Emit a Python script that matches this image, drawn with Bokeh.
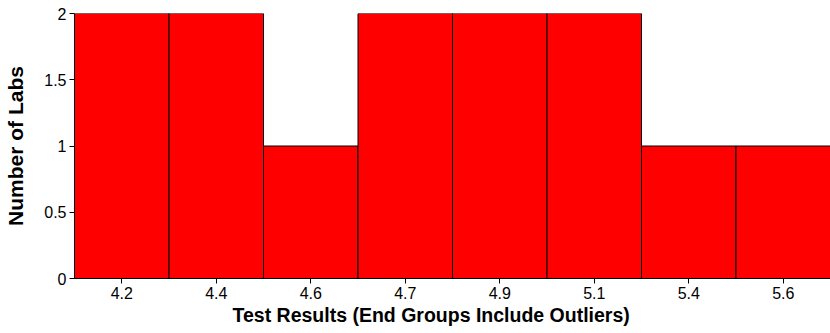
from bokeh.plotting import figure
from bokeh.models import Range1d, FactorRange, Title
from bokeh.embed import file_html
from bokeh.resources import INLINE

bins = ["4.2", "4.4", "4.6", "4.7", "4.9", "5.1", "5.4", "5.6"]
counts = [2, 2, 1, 2, 2, 2, 1, 1]
y_ticks = [0, 0.5, 1, 1.5, 2]

p = figure(width=830, height=333, output_backend="svg", toolbar_location=None,
           x_range=FactorRange(factors=bins, range_padding=0),
           y_range=Range1d(0, 2),
           min_border_left=74, min_border_right=0, min_border_top=13, min_border_bottom=55)

p.vbar(x=bins, top=counts, width=1.0, fill_color="#ff0000", line_color="black", line_width=1)

p.xgrid.visible = False
p.ygrid.visible = False
p.outline_line_color = None

p.yaxis.ticker = y_ticks
p.yaxis.minor_tick_line_color = None

for ax in (p.xaxis[0], p.yaxis[0]):
    ax.major_label_text_font = "Liberation Sans"
    ax.major_label_text_font_size = "16px"
    ax.major_label_text_color = "black"
    ax.axis_label_text_font = "Liberation Sans"
    ax.axis_label_text_font_style = "bold"
    ax.axis_label_text_color = "black"
    ax.axis_line_color = "black"
    ax.major_tick_line_color = "black"
    ax.major_tick_out = 5
    ax.major_tick_in = 0
    ax.major_label_standoff = 3

p.yaxis.axis_label = "Number of Labs"
p.yaxis.axis_label_text_font_size = "21px"
p.yaxis.axis_label_standoff = 14

xt = Title(text="Test Results (End Groups Include Outliers)", align="left", offset=158,
           text_font="Liberation Sans", text_font_style="bold", text_font_size="19.5px",
           text_color="black", standoff=0)
p.add_layout(xt, "below")

open("out.html", "w").write(file_html(p, INLINE))
